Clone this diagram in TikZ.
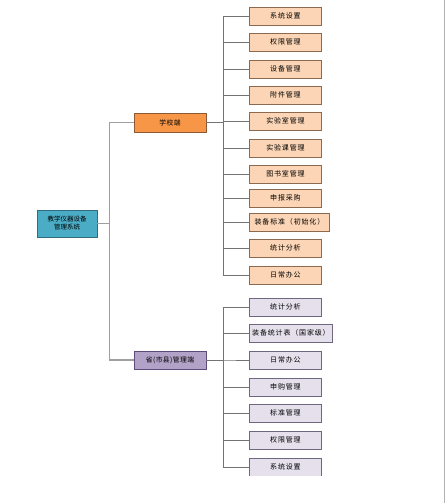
\documentclass[tikz,border=0pt]{standalone}
\usepackage{fontspec}
\newfontfamily\cjk{Noto Sans CJK SC}
\newfontfamily\cjkwide[LetterSpace=12]{Noto Sans CJK SC}
\newfontfamily\cjkmid[LetterSpace=6]{Noto Sans CJK SC}
\definecolor{rootfill}{HTML}{4BACC6}
\definecolor{rootdraw}{HTML}{2E6E80}
\definecolor{schfill}{HTML}{F79646}
\definecolor{schdraw}{HTML}{8C5A35}
\definecolor{schcfill}{HTML}{FBD5B5}
\definecolor{schcdraw}{HTML}{8C6A50}
\definecolor{provfill}{HTML}{B3A2C7}
\definecolor{provdraw}{HTML}{5F4B7A}
\definecolor{provcfill}{HTML}{E5E0EC}
\definecolor{provcdraw}{HTML}{6F6680}
\tikzset{
  base/.style={draw, line width=0.9pt, inner sep=0pt, align=center, text=black},
  rootbox/.style={base, fill=rootfill, draw=rootdraw, minimum width=60pt, minimum height=27pt, font=\cjk\fontsize{6.5}{8}\selectfont},
  schbox/.style={base, fill=schfill, draw=schdraw, minimum width=72pt, minimum height=19pt, font=\cjkmid\fontsize{6.8}{8}\selectfont},
  provbox/.style={base, fill=provfill, draw=provdraw, minimum width=72pt, minimum height=18pt, font=\cjkmid\fontsize{6.8}{8}\selectfont},
  schc/.style={base, fill=schcfill, draw=schcdraw, minimum width=72pt, minimum height=18pt, anchor=west, font=\cjkwide\fontsize{7}{8}\selectfont},
  provc/.style={base, fill=provcfill, draw=provcdraw, minimum width=72pt, minimum height=18pt, anchor=west, font=\cjkwide\fontsize{7}{8}\selectfont},
  mainline/.style={draw=gray!75, line width=1.2pt},
  subline/.style={draw=gray!90!black, line width=0.8pt},
}
\begin{document}
\begin{tikzpicture}[x=1pt,y=-1pt]
\useasboundingbox (0,0) rectangle (445,503);
\draw[gray!60, line width=1pt] (444,0) -- (444,503);
\node[rootbox] (root) at (67,223.5) {教学仪器设备\\管理系统};
\node[schbox] (sch) at (170,122.5) {学校端};
\node[provbox] (prov) at (170,360) {省(市县)管理端};

\node[schc] (s1) at (249,16) {系统设置};
\node[schc] (s2) at (249,42) {权限管理};
\node[schc] (s3) at (249,69) {设备管理};
\node[schc] (s4) at (249,95) {附件管理};
\node[schc] (s5) at (249,121) {实验室管理};
\node[schc] (s6) at (249,148) {实验课管理};
\node[schc] (s7) at (249,174) {图书室管理};
\node[schc] (s8) at (249,198) {申报采购};
\node[schc, minimum width=80pt] (s9) at (249,222) {装备标准（初始化）};
\node[schc] (s10) at (249,248) {统计分析};
\node[schc] (s11) at (249,275) {日常办公};

\node[provc] (p1) at (249,307) {统计分析};
\node[provc, minimum width=83pt] (p2) at (249,333) {装备统计表（国家级）};
\node[provc] (p3) at (249,360) {日常办公};
\node[provc] (p4) at (249,387) {申购管理};
\node[provc] (p5) at (249,413) {标准管理};
\node[provc] (p6) at (249,440) {权限管理};
\begin{scope}
\clip (200,455) rectangle (340,475);
\node[provc] (p7) at (249,467) {系统设置};
\end{scope}

\draw[mainline] (root.east) -- ++(12,0) |- (sch.west);
\draw[mainline] (root.east) -- ++(12,0) |- (prov.west);

\foreach \c in {s1,s2,s3,s4,s5,s6,s7,s8,s9,s10,s11}
  \draw[subline] (sch.east) -- ++(17,0) |- (\c.west);
\foreach \c in {p1,p2,p3,p4,p5,p6}
  \draw[subline] (prov.east) -- ++(17,0) |- (\c.west);
\draw[subline] (prov.east) -- ++(17,0) |- (249,467);
\end{tikzpicture}
\end{document}
